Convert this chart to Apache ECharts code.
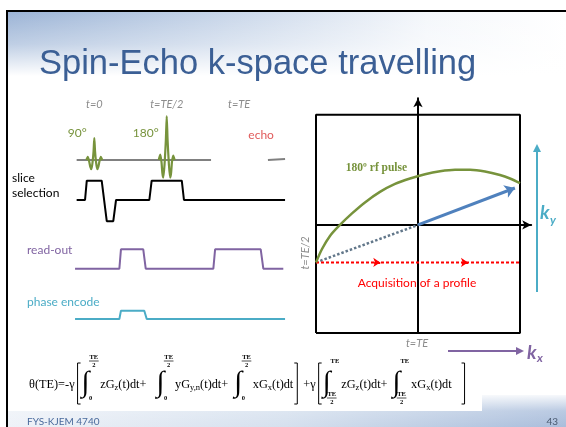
<!DOCTYPE html>
<html>
<head>
<meta charset="utf-8">
<script src="https://cdn.jsdelivr.net/npm/echarts@6/dist/echarts.min.js"></script>
<style>
  html, body { margin: 0; padding: 0; background: #fff; }
  #c { width: 566px; height: 427px; }
</style>
</head>
<body>
<div id="c"></div>
<script>
// ---------- Pulse sequence (time in units where TE = 10) ----------
const timeMarks = [0, 5, 10];
const timeLabels = ['t=0', 't=TE/2', 't=TE'];
const flipLabels = ['90°', '180°'];

const rfBaseT = [-1.22, 8.06];
const rfBaseV = [0, 0];
const echoT = [11.99, 13.17];
const echoV = [0, 0.05];
const rf90T = [-0.55, -0.45, -0.36, -0.28, -0.20, -0.12, -0.05, 0, 0.05, 0.12, 0.20, 0.28, 0.36, 0.45, 0.55];
const rf90V = [0, 0.14, -0.05, -0.30, -0.42, -0.10, 0.40, 1, 0.40, -0.10, -0.42, -0.30, -0.05, 0.14, 0];
const rf180T = [4.45, 4.55, 4.64, 4.70, 4.76, 4.85, 4.94, 5, 5.06, 5.15, 5.24, 5.30, 5.36, 5.45, 5.55];
const rf180V = [0, 0.24, -0.10, -0.60, -0.80, -0.20, 0.90, 2, 0.90, -0.20, -0.80, -0.60, -0.10, 0.20, 0];

const sliceT = [-1.22, -0.64, -0.52, 0.51, 0.86, 1.31, 1.50, 3.80, 3.96, 6.04, 6.19, 13.17];
const sliceV = [0, 0, 1, 1, -1.1, -1.1, 0, 0, 1, 1, 0, 0];
const readT = [-1.33, 1.73, 1.84, 3.38, 3.55, 8.22, 8.34, 11.49, 11.67, 13.05];
const readV = [0, 0, 1, 1, 0, 0, 1, 1, 0, 0];
const phaseT = [-1.33, 1.73, 1.84, 3.45, 3.62, 13.17];
const phaseV = [0, 0, 0.43, 0.43, 0, 0];

// ---------- k-space trajectory (kx, ky) ----------
const boxKx = [-1, 1, 1, -1, -1];
const boxKy = [-1.07, -1.07, 1.09, 1.09, -1.07];
const arcKx = [-1, -0.941, -0.863, -0.765, -0.647, -0.520, -0.373, -0.225, -0.078, 0.069, 0.216, 0.363, 0.510, 0.657, 0.804, 0.902, 1];
const arcKy = [-0.371, -0.238, -0.109, 0, 0.114, 0.223, 0.327, 0.406, 0.460, 0.502, 0.531, 0.546, 0.546, 0.530, 0.495, 0.460, 0.413];
const dephaseKx = [-1, 0];
const dephaseKy = [-0.371, 0];
const readLineKx = [-1, 1];
const readLineKy = [-0.371, -0.371];
const readArrowKx = [-0.37, 0.49];
const vectorEnd = [0.95, 0.366];

const zip = (a, b) => a.map((v, i) => [v, b[i]]);

const GREEN = '#77933c', PURPLE = '#8064a2', TEAL = '#4bacc6', GREY = '#8c8c8c';

const chart = echarts.init(document.getElementById('c'), null, { renderer: 'canvas', width: 566, height: 427 });

const seqLeft = 74.03, seqWidth = 212.9;
const hidX = i => ({ gridIndex: i, type: 'value', min: -1.4, max: 13.3, show: false });
const hidY = (i, mn, mx) => ({ gridIndex: i, type: 'value', min: mn, max: mx, show: false });
const kAxis = (mn, mx) => ({
  gridIndex: 4, type: 'value', min: mn, max: mx,
  axisLine: { show: true, onZero: true, symbol: ['none', 'arrow'], symbolSize: [7, 9],
              lineStyle: { color: '#000', width: 2 } },
  axisTick: { show: false }, axisLabel: { show: false }, splitLine: { show: false }
});
const ln = (xi, data, color, width, extra) => Object.assign({
  type: 'line', xAxisIndex: xi, yAxisIndex: xi, data, showSymbol: false, symbol: 'none',
  lineStyle: { color, width }, silent: true, animation: false
}, extra || {});

chart.setOption({
  backgroundColor: '#ffffff',
  animation: false,
  grid: [
    { left: seqLeft, top: 111.6, width: seqWidth, height: 70.4, outerBoundsMode: 'none' },
    { left: seqLeft, top: 174.9, width: seqWidth, height: 50.2, outerBoundsMode: 'none' },
    { left: seqLeft, top: 243.5, width: seqWidth, height: 34.9, outerBoundsMode: 'none' },
    { left: seqLeft, top: 293.8, width: seqWidth, height: 34.9, outerBoundsMode: 'none' },
    { left: 316, top: 98.3, width: 215.2, height: 234.7, outerBoundsMode: 'none' }
  ],
  xAxis: [hidX(0), hidX(1), hidX(2), hidX(3), kAxis(-1, 1.11)],
  yAxis: [hidY(0, -1, 2.2), hidY(1, -1.3, 1.3), hidY(2, -0.5, 1.3), hidY(3, -0.5, 1.3), kAxis(-1.07, 1.254)],
  series: [
    ln(0, zip(rfBaseT, rfBaseV), '#808080', 2),
    ln(0, zip(echoT, echoV), '#808080', 2),
    ln(0, zip(rf90T, rf90V), GREEN, 2.2, { smooth: 0.2, z: 4 }),
    ln(0, zip(rf180T, rf180V), GREEN, 2.2, { smooth: 0.2, z: 4 }),
    ln(1, zip(sliceT, sliceV), '#000', 2),
    ln(2, zip(readT, readV), PURPLE, 2),
    ln(3, zip(phaseT, phaseV), TEAL, 2),
    ln(4, zip(boxKx, boxKy), '#000', 2),
    ln(4, zip(arcKx, arcKy), GREEN, 2.5, { smooth: 0.3, z: 5 }),
    ln(4, zip(dephaseKx, dephaseKy), '#62778a', 2.5, { lineStyle: { color: '#62778a', width: 2.5, type: [2.5, 2] } }),
    ln(4, zip(readLineKx, readLineKy), '#ff0000', 2, { lineStyle: { color: '#ff0000', width: 2, type: [3, 2] } }),
    {
      type: 'lines', coordinateSystem: 'cartesian2d', xAxisIndex: 4, yAxisIndex: 4,
      symbol: ['none', 'arrow'], symbolSize: 7, silent: true, animation: false,
      lineStyle: { color: '#ff0000', width: 2, opacity: 1 },
      data: readArrowKx.map(k => ({ coords: [[k - 0.06, readLineKy[0]], [k, readLineKy[0]]] }))
    },
    {
      type: 'lines', coordinateSystem: 'cartesian2d', xAxisIndex: 4, yAxisIndex: 4,
      symbol: ['none', 'arrow'], symbolSize: 10, silent: true, animation: false, z: 6,
      lineStyle: { color: '#4f81bd', width: 3, opacity: 1 },
      data: [{ coords: [[0, 0], vectorEnd] }]
    }
  ]
});

// ---------- Slide decoration and annotations ----------
const g = [];
const T = (text, x, y, font, fill, align, extra) => g.push(Object.assign({
  type: 'text', z: 30, silent: true,
  style: { text, x, y, font, fill, align: align || 'left', verticalAlign: 'middle',
           textAlign: align || 'left', textVerticalAlign: 'middle' }
}, extra || {}));

// header band
g.push({ type: 'rect', z: -5, silent: true, shape: { x: 8, y: 12, width: 558, height: 64 },
  style: { fill: new echarts.graphic.LinearGradient(0, 0, 1, 0, [
    { offset: 0, color: '#9cb4d6' }, { offset: 0.35, color: '#c3d2e7' },
    { offset: 0.75, color: '#f4f7fb' }, { offset: 1, color: '#ffffff' }]) } });
g.push({ type: 'rect', z: -4, silent: true, shape: { x: 8, y: 12, width: 558, height: 64 },
  style: { fill: new echarts.graphic.LinearGradient(0, 0, 0, 1, [
    { offset: 0, color: 'rgba(255,255,255,0)' }, { offset: 0.5, color: 'rgba(255,255,255,0.35)' },
    { offset: 1, color: 'rgba(255,255,255,1)' }]) } });
// footer band
g.push({ type: 'rect', z: -5, silent: true, shape: { x: 8, y: 395, width: 558, height: 32 },
  style: { fill: new echarts.graphic.LinearGradient(0, 0, 1, 0, [
    { offset: 0, color: '#eef2f8' }, { offset: 0.5, color: '#d5e0ee' }, { offset: 1, color: '#a9bddb' }]) } });
g.push({ type: 'rect', z: -4, silent: true, shape: { x: 8, y: 395, width: 558, height: 32 },
  style: { fill: new echarts.graphic.LinearGradient(0, 0, 0, 1, [
    { offset: 0, color: 'rgba(255,255,255,0.9)' }, { offset: 0.5, color: 'rgba(255,255,255,0.2)' },
    { offset: 1, color: 'rgba(255,255,255,0)' }]) } });
g.push({ type: 'rect', z: -3, silent: true, shape: { x: 8, y: 340, width: 474, height: 71 }, style: { fill: '#ffffff' } });
// frame
g.push({ type: 'line', z: 40, silent: true, shape: { x1: 7, y1: 10, x2: 7, y2: 427 }, style: { stroke: '#000', lineWidth: 2 } });
g.push({ type: 'line', z: 40, silent: true, shape: { x1: 6, y1: 11, x2: 566, y2: 11 }, style: { stroke: '#000', lineWidth: 2 } });

// title and footer
T('Spin-Echo k-space travelling', 39, 64, '34.5px "Liberation Sans"', '#3b5f95');
T('FYS-KJEM 4740', 27, 422, '10px "Lato"', '#4a6a9c');
T('43', 558, 422, '10px "Lato"', '#4a5a70', 'right');

// sequence labels
const px0 = t => chart.convertToPixel({ gridIndex: 0 }, [t, 0])[0];
timeMarks.forEach((t, i) => T(timeLabels[i], px0(t), 104, 'italic 11px "Lato"', GREY, 'center'));
T(flipLabels[0], px0(timeMarks[0]) - 17, 133, '12px "Lato"', GREEN, 'center');
T(flipLabels[1], px0(timeMarks[1]) - 21, 133, '12px "Lato"', GREEN, 'center');
T('echo', px0(timeMarks[2]) + 22, 135, '12px "Lato"', '#e05a5a', 'center');
T('slice', 12, 178, '12px "Lato"', '#000');
T('selection', 12, 193, '12px "Lato"', '#000');
T('read-out', 27, 250, '12px "Lato"', PURPLE);
T('phase encode', 27, 302, '12px "Lato"', TEAL);

// k-space annotations
T('180º rf pulse', 376.5, 168, 'bold 11.5px "Liberation Serif"', GREEN, 'center');
T('Acquisition of a profile', 417, 283, '12px "Lato"', '#ff0000', 'center');
T('t=TE', 417, 343, 'italic 11px "Lato"', GREY, 'center');
T('t=TE/2', 305, 253, 'italic 11px "Lato"', GREY, 'center', { rotation: Math.PI / 2, x: 305, y: 253,
  style: { text: 't=TE/2', x: 0, y: 0, font: 'italic 11px "Lato"', fill: GREY, align: 'center', verticalAlign: 'middle',
           textAlign: 'center', textVerticalAlign: 'middle' } });

// ky / kx direction arrows
g.push({ type: 'line', z: 30, silent: true, shape: { x1: 537, y1: 292, x2: 537, y2: 151 }, style: { stroke: TEAL, lineWidth: 2 } });
g.push({ type: 'polygon', z: 30, silent: true, shape: { points: [[533, 152], [541, 152], [537, 144]] }, style: { fill: TEAL } });
T('k', 540, 213, 'bold italic 19px "Lato"', TEAL);
T('y', 550, 220, 'bold italic 12px "Lato"', TEAL);
g.push({ type: 'line', z: 30, silent: true, shape: { x1: 448, y1: 351, x2: 517, y2: 351 }, style: { stroke: PURPLE, lineWidth: 2 } });
g.push({ type: 'polygon', z: 30, silent: true, shape: { points: [[516, 347], [516, 355], [524, 351]] }, style: { fill: PURPLE } });
T('k', 527, 353, 'bold italic 19px "Lato"', PURPLE);
T('x', 537, 358, 'bold italic 12px "Lato"', PURPLE);

// ---------- Phase equation ----------
const measure = document.createElement('canvas').getContext('2d');
const tw = (s, f) => { measure.font = f; return measure.measureText(s).width; };
const eqFont = '12.3px "Liberation Serif"', eqSub = '8.5px "Liberation Serif"';
const eqLim = 'bold 6.5px "Liberation Serif"', eqInt = '29px "Liberation Serif"';
const eqTokens = [
  ['txt', 'θ(TE)=-γ'], ['gap', 2], ['open'],
  ['int', 'TE/2', '0'], ['txt', 'zG'], ['sub', 'z'], ['txt', '(t)dt+'], ['gap', 10],
  ['int', 'TE/2', '0'], ['txt', 'yG'], ['sub', 'y,n'], ['txt', '(t)dt+'], ['gap', 6],
  ['int', 'TE/2', '0'], ['txt', 'xG'], ['sub', 'x'], ['txt', '(t)dt'], ['gap', 1], ['close'], ['gap', 3],
  ['txt', '+γ'], ['gap', 2], ['open'],
  ['int', 'TE', 'TE/2'], ['txt', 'zG'], ['sub', 'z'], ['txt', '(t)dt+'], ['gap', 5],
  ['int', 'TE', 'TE/2'], ['txt', 'xG'], ['sub', 'x'], ['txt', '(t)dt'], ['gap', 10], ['close']
];
const eqY = 385;
const limit = (s, cx, cy) => {
  if (s.indexOf('/') < 0) { T(s, cx, cy, eqLim, '#000', 'center'); return; }
  const [num, den] = s.split('/');
  const w = tw(num, eqLim) + 1;
  T(num, cx, cy - 4, eqLim, '#000', 'center');
  g.push({ type: 'line', z: 30, silent: true, shape: { x1: cx - w / 2, y1: cy, x2: cx + w / 2, y2: cy }, style: { stroke: '#000', lineWidth: 0.7 } });
  T(den, cx, cy + 4.5, eqLim, '#000', 'center');
};
const bracket = (x, open) => {
  const pts = open ? [[x + 4, 363], [x + 1, 363], [x + 1, 404], [x + 4, 404]]
                   : [[x, 363], [x + 3, 363], [x + 3, 404], [x, 404]];
  g.push({ type: 'polyline', z: 30, silent: true, shape: { points: pts }, style: { stroke: '#000', lineWidth: 1, fill: null } });
};
let ex = 29;
eqTokens.forEach(tk => {
  if (tk[0] === 'txt') { T(tk[1], ex, eqY, eqFont, '#000'); ex += tw(tk[1], eqFont); }
  else if (tk[0] === 'sub') { T(tk[1], ex, eqY + 3, eqSub, '#000'); ex += tw(tk[1], eqSub); }
  else if (tk[0] === 'gap') { ex += tk[1]; }
  else if (tk[0] === 'open') { bracket(ex, true); ex += 5; }
  else if (tk[0] === 'close') { bracket(ex, false); ex += 6; }
  else if (tk[0] === 'int') {
    const iw = tw('∫', eqInt);
    T('∫', ex, eqY - 2, eqInt, '#000');
    const lw = Math.max(tw(tk[1].split('/')[0], eqLim), tw(tk[2].split('/')[0], eqLim));
    limit(tk[1], ex + iw + lw / 2, 361);
    limit(tk[2], ex + iw * 0.6 + lw / 2, 398);
    ex += iw + lw + 2;
  }
});

chart.setOption({ graphic: { elements: g } });
</script>
</body>
</html>
